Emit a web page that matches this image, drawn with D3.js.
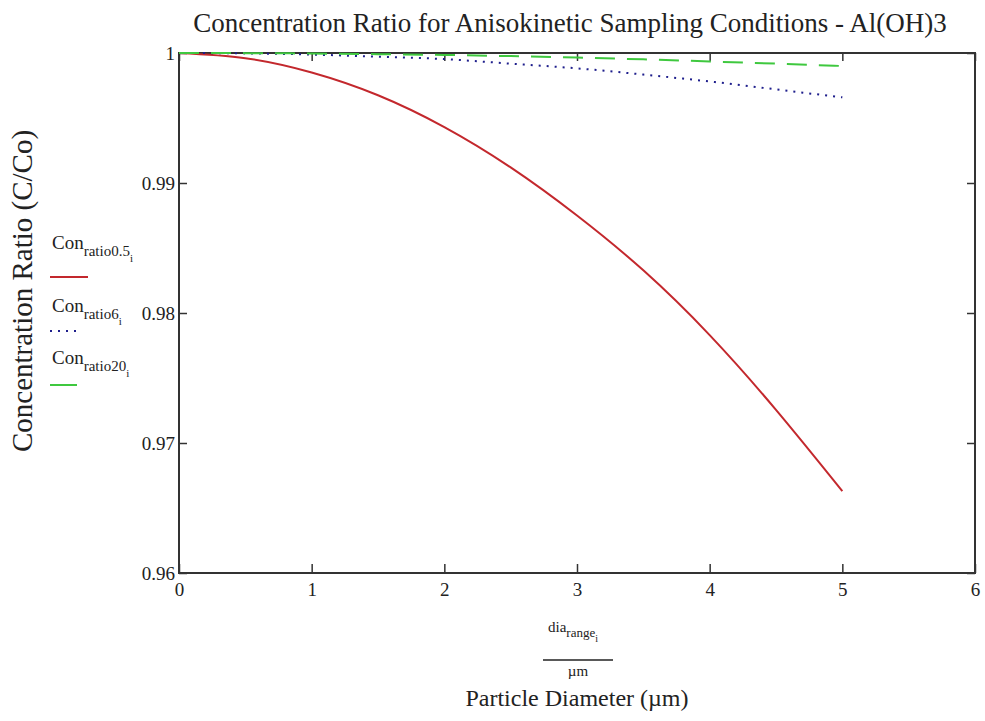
<!DOCTYPE html>
<html>
<head>
<meta charset="utf-8">
<script src="https://cdn.jsdelivr.net/npm/d3@7"></script>
<style>
  body { margin: 0; background: #fff; }
  text { font-family: "Liberation Serif", "Times New Roman", serif; fill: #222; }
</style>
</head>
<body>
<svg width="985" height="721"></svg>
<script>
// data
const diaRange = [0, 0.5, 1, 1.5, 2, 2.5, 3, 3.5, 4, 4.5, 5];
const conRatio05 = [1.0, 0.9996, 0.9985, 0.99675, 0.9943, 0.9912, 0.9875, 0.98328, 0.9783, 0.97255, 0.9663];
const conRatio6 = [1.0, 0.99997, 0.99988, 0.99972, 0.99953, 0.99918, 0.99882, 0.99834, 0.99781, 0.9972, 0.99659];
const conRatio20 = [1.0, 0.99999, 0.99996, 0.99991, 0.99985, 0.99976, 0.99965, 0.99951, 0.99935, 0.99918, 0.999];

const xTicks = [0, 1, 2, 3, 4, 5, 6];
const yTicks = [0.96, 0.97, 0.98, 0.99, 1];
const yTickLabels = ["0.96", "0.97", "0.98", "0.99", "1"];

const series = [
	{ name: "ratio0.5", values: conRatio05, color: "#c3282d", dash: null, legendEnd: 88 },
	{ name: "ratio6", values: conRatio6, color: "#1e1e8c", dash: "2,6", legendEnd: 80 },
	{ name: "ratio20", values: conRatio20, color: "#3fc83f", dash: "20,12", legendEnd: 77 },
];

let svg = d3.select("svg"),
	margin = { left: 179, right: 10, top: 53, bottom: 148 },
	width = +svg.attr("width") - margin.left - margin.right,
	height = +svg.attr("height") - margin.top - margin.bottom,
	g = svg.append("g").attr("transform", "translate(" + margin.left + "," + margin.top + ")");

let x = d3.scaleLinear().domain([0, 6]).range([0, width]);
let y = d3.scaleLinear().domain([0.96, 1]).range([height, 0]);

// axes, ticks point inward
g.append("g")
	.attr("transform", "translate(0," + height + ")")
	.call(d3.axisBottom(x).tickValues(xTicks).tickSize(-9).tickPadding(10).tickFormat(d3.format("d")));
g.append("g")
	.call(d3.axisTop(x).tickValues(xTicks).tickSize(-8).tickFormat(""));
g.append("g")
	.call(d3.axisLeft(y).tickValues(yTicks).tickSize(-8).tickPadding(4).tickFormat((d, i) => yTickLabels[i]));
g.append("g")
	.attr("transform", "translate(" + width + ",0)")
	.call(d3.axisRight(y).tickValues(yTicks).tickSize(-8).tickFormat(""));

g.selectAll(".domain").remove();
g.selectAll(".tick line").attr("stroke", "#333").attr("stroke-width", 1.5);
g.selectAll(".tick text").attr("font-size", 19).attr("fill", "#222");

g.append("rect")
	.attr("width", width)
	.attr("height", height)
	.attr("fill", "none")
	.attr("stroke", "#333")
	.attr("stroke-width", 2);

// curves
let line = d3.line()
	.x((d, i) => x(diaRange[i]))
	.y(d => y(d))
	.curve(d3.curveNatural);

series.forEach(s => {
	g.append("path")
		.datum(s.values)
		.attr("fill", "none")
		.attr("stroke", s.color)
		.attr("stroke-width", 2)
		.attr("stroke-dasharray", s.dash)
		.attr("d", line);
});

// title
svg.append("text")
	.attr("x", 570)
	.attr("y", 32)
	.attr("text-anchor", "middle")
	.attr("font-size", 27)
	.text("Concentration Ratio for Anisokinetic Sampling Conditions - Al(OH)3");

// y label
svg.append("text")
	.attr("transform", "rotate(-90)")
	.attr("x", -291)
	.attr("y", 32)
	.attr("text-anchor", "middle")
	.attr("font-size", 29)
	.text("Concentration Ratio (C/Co)");

// legend
const legendY = [277, 331, 385];
const legendTextY = [249, 312, 364];
series.forEach((s, i) => {
	let t = svg.append("text").attr("x", 52).attr("y", legendTextY[i]).attr("font-size", 19);
	t.append("tspan").text("Con");
	t.append("tspan").attr("dy", 7).attr("font-size", 15).text(s.name);
	t.append("tspan").attr("dy", 6).attr("font-size", 11).text("i");
	svg.append("line")
		.attr("x1", 50)
		.attr("x2", s.legendEnd)
		.attr("y1", legendY[i])
		.attr("y2", legendY[i])
		.attr("stroke", s.color)
		.attr("stroke-width", 2)
		.attr("stroke-dasharray", s.dash === "2,6" ? s.dash : null);
});

// x label, fraction form
let frac = svg.append("text").attr("x", 548).attr("y", 632).attr("font-size", 15);
frac.append("tspan").text("dia");
frac.append("tspan").attr("dy", 5).attr("font-size", 13).text("range");
frac.append("tspan").attr("dy", 5).attr("font-size", 10).text("i");
svg.append("line")
	.attr("x1", 543).attr("x2", 613)
	.attr("y1", 660).attr("y2", 660)
	.attr("stroke", "#222").attr("stroke-width", 1.5);
svg.append("text")
	.attr("x", 578)
	.attr("y", 676)
	.attr("text-anchor", "middle")
	.attr("font-size", 15)
	.text("µm");
svg.append("text")
	.attr("x", 577)
	.attr("y", 706)
	.attr("text-anchor", "middle")
	.attr("font-size", 24)
	.text("Particle Diameter (µm)");
</script>
</body>
</html>
